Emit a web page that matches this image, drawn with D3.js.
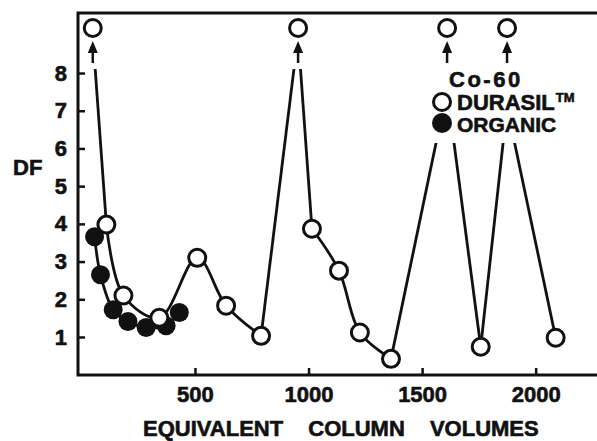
<!DOCTYPE html>
<html>
<head>
<meta charset="utf-8">
<script src="https://cdn.jsdelivr.net/npm/d3@7"></script>
<style>
  html, body { margin: 0; padding: 0; background: #fff; }
  svg { display: block; }
  text { font-family: "Liberation Sans", Arial, sans-serif; font-weight: bold; fill: #111; stroke: #111; stroke-width: 0.6px; }
</style>
</head>
<body>
<svg id="chart" width="597" height="441"></svg>
<script>
// ---- data ----
// DURASIL (open circles); offScale points run above the plotted range:
// their DF is the estimated apex where the drawn lines would meet (hidden by arrows / legend)
const durasilVolumes = [50, 110, 185, 343, 510, 637, 791, 954, 1015, 1134, 1226, 1363, 1610, 1758, 1874, 2088];
const durasilDF      = [9.0, 3.98, 2.1, 1.51, 3.1, 1.83, 1.03, 9.0, 3.87, 2.76, 1.12, 0.42, 7.55, 0.74, 7.1, 0.98];
const durasilOffScale = [true, false, false, false, false, false, false, true, false, false, false, false, true, false, true, false];
// ORGANIC (filled circles)
const organicVolumes = [58, 84, 140, 205, 285, 373, 431];
const organicDF      = [3.66, 2.65, 1.72, 1.41, 1.25, 1.3, 1.65];
// axis ticks
const xTicks = [500, 1000, 1500, 2000];
const yTicks = [1, 2, 3, 4, 5, 6, 7, 8];
// texts
const yTitle = "DF";
const xTitle = "EQUIVALENT COLUMN VOLUMES";
const legendTitle = "Co-60";
const legendLabels = ["DURASIL", "ORGANIC"];

// ---- layout ----
const W = 597, H = 441;
const mLeft = 78, mTop = 13, mBottom = 375;
const svg = d3.select("#chart");

const x = d3.scaleLinear().domain([-15, 2270]).range([mLeft, W]);
const y = d3.scaleLinear().domain([0, 9.6]).range([374.7, 12.7]);

const durasil = durasilVolumes.map((v, i) => ({ v, df: durasilDF[i], off: durasilOffScale[i] }));
const organic = organicVolumes.map((v, i) => ({ v, df: organicDF[i] }));

// mask: lines that run off-scale stop below the arrows and below the legend
const defs = svg.append("defs");
const mask = defs.append("mask").attr("id", "plotMask").attr("maskUnits", "userSpaceOnUse")
  .attr("x", 0).attr("y", 0).attr("width", W).attr("height", H);
mask.append("rect").attr("x", 0).attr("y", 69).attr("width", W).attr("height", H).attr("fill", "#fff");
mask.append("rect").attr("x", 420).attr("y", 0).attr("width", 165).attr("height", 143).attr("fill", "#000");

// frame
svg.append("path")
  .attr("d", `M${W},${mTop}H${mLeft}V${mBottom}H${W}`)
  .attr("fill", "none").attr("stroke", "#111").attr("stroke-width", 3);

// axes
const yAxis = d3.axisLeft(y).tickValues(yTicks).tickSizeInner(-7).tickSizeOuter(0).tickPadding(11).tickFormat(d3.format("d"));
const gy = svg.append("g").attr("transform", `translate(${mLeft},0)`).call(yAxis);
const xAxis = d3.axisBottom(x).tickValues(xTicks).tickSizeInner(-7).tickSizeOuter(0).tickPadding(11).tickFormat(d3.format("d"));
const gx = svg.append("g").attr("transform", `translate(0,${mBottom})`).call(xAxis);
[gy, gx].forEach(g => {
  g.select(".domain").remove();
  g.selectAll(".tick line").attr("stroke", "#111").attr("stroke-width", 2.5);
  g.selectAll(".tick text").attr("font-size", 22).attr("fill", "#111")
    .attr("font-family", "Liberation Sans, Arial, sans-serif").attr("font-weight", "bold");
});

// titles
svg.append("text").attr("x", 13).attr("y", 175).attr("font-size", 22).text(yTitle);
svg.append("text").attr("x", 143).attr("y", 436).attr("font-size", 22)
  .attr("word-spacing", 19).text(xTitle);

// lines
const smooth = d3.line().x(d => x(d.v)).y(d => y(d.df)).curve(d3.curveCatmullRom.alpha(0.5));
const straight = d3.line().x(d => x(d.v)).y(d => y(d.df));
const lines = svg.append("g").attr("mask", "url(#plotMask)")
  .attr("fill", "none").attr("stroke", "#111").attr("stroke-width", 2.8).attr("stroke-linejoin", "round");
lines.append("path").datum(organic).attr("d", smooth);

// durasil: smooth runs between off-scale peaks, straight strokes to/from the peaks
const runs = [];
let run = [];
durasil.forEach(d => {
  if (d.off) { if (run.length > 1) runs.push(run); run = []; }
  else run.push(d);
});
if (run.length > 1) runs.push(run);
runs.forEach(r => lines.append("path").datum(r).attr("d", smooth));
const pairs = d3.pairs(durasil).filter(([a, b]) => a.off || b.off);
pairs.forEach(p => lines.append("path").datum(p).attr("d", straight));

// organic markers
svg.append("g").selectAll("circle").data(organic).join("circle")
  .attr("cx", d => x(d.v)).attr("cy", d => y(d.df)).attr("r", 9.5)
  .attr("fill", "#111");

// durasil markers (on-scale)
svg.append("g").selectAll("circle").data(durasil.filter(d => !d.off)).join("circle")
  .attr("cx", d => x(d.v)).attr("cy", d => y(d.df)).attr("r", 8.5)
  .attr("fill", "#fff").attr("stroke", "#111").attr("stroke-width", 3);

// off-scale markers: circle at top with an upward arrow
const offG = svg.append("g").selectAll("g").data(durasil.filter(d => d.off)).join("g")
  .attr("transform", d => `translate(${x(d.v)},0)`);
offG.append("circle").attr("cx", 0).attr("cy", 28).attr("r", 8.5)
  .attr("fill", "#fff").attr("stroke", "#111").attr("stroke-width", 3);
offG.append("line").attr("x1", 0).attr("x2", 0).attr("y1", 50).attr("y2", 63)
  .attr("stroke", "#111").attr("stroke-width", 2.5);
offG.append("path").attr("d", "M0,41L5,53L-5,53Z").attr("fill", "#111");

// legend
svg.append("text").attr("x", 449).attr("y", 87).attr("font-size", 22)
  .attr("letter-spacing", 2.5).text(legendTitle);
svg.append("circle").attr("cx", 442).attr("cy", 102).attr("r", 8.5)
  .attr("fill", "#fff").attr("stroke", "#111").attr("stroke-width", 3);
const dt = svg.append("text").attr("x", 457).attr("y", 110).attr("font-size", 22);
dt.append("tspan").text(legendLabels[0]);
dt.append("tspan").attr("font-size", 13).attr("dy", -8).attr("dx", 1).text("TM");
svg.append("circle").attr("cx", 442).attr("cy", 123).attr("r", 10).attr("fill", "#111");
svg.append("text").attr("x", 457).attr("y", 132).attr("font-size", 21).text(legendLabels[1]);
</script>
</body>
</html>
